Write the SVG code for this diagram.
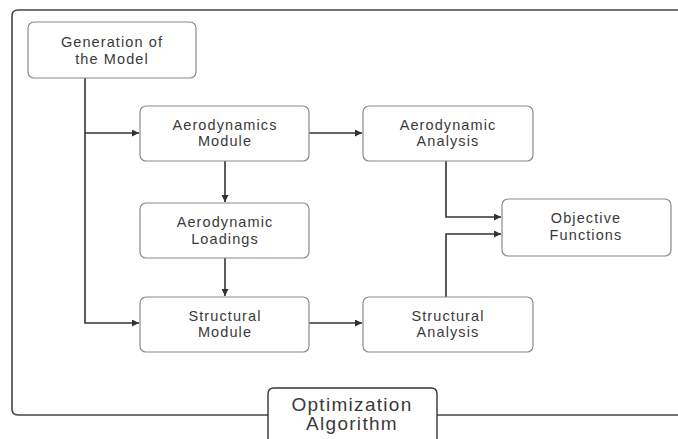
<svg xmlns="http://www.w3.org/2000/svg" width="678" height="439" viewBox="0 0 678 439">
<style>
.box{fill:#fff;stroke:#8a8a8a;stroke-width:1.2}
.t{font-family:"Liberation Sans",Arial,sans-serif;font-size:14.5px;letter-spacing:1.1px;fill:#3a3a3a;text-anchor:middle}
.big{font-family:"Liberation Sans",Arial,sans-serif;font-size:19px;letter-spacing:1.3px;fill:#3a3a3a;text-anchor:middle}
.c{fill:none;stroke:#333;stroke-width:1.6}
.frame{fill:none;stroke:#444;stroke-width:1.6}
</style>
<defs>
<marker id="ah" viewBox="0 0 10 10" refX="10" refY="5" markerWidth="7" markerHeight="7" markerUnits="userSpaceOnUse" orient="auto">
<path d="M0,0 L10,5 L0,10 z" fill="#333"/>
</marker>
</defs>
<rect width="678" height="439" fill="#fff"/>
<g id="frame">
<path class="frame" d="M678,10 L18,10 Q12,10 12,16 L12,409 Q12,415 18,415 L268,415"/>
<path class="frame" d="M437,415 L678,415"/>
</g>
<g id="connectors">
<path class="c" d="M85,78 L85,323 L139,323" marker-end="url(#ah)"/>
<path class="c" d="M85,133 L139,133" marker-end="url(#ah)"/>
<path class="c" d="M309,133 L362,133" marker-end="url(#ah)"/>
<path class="c" d="M225,161 L225,202" marker-end="url(#ah)"/>
<path class="c" d="M225,258 L225,296" marker-end="url(#ah)"/>
<path class="c" d="M309,323 L362,323" marker-end="url(#ah)"/>
<path class="c" d="M446,161 L446,217 L501,217" marker-end="url(#ah)"/>
<path class="c" d="M446,297 L446,234 L501,234" marker-end="url(#ah)"/>
</g>
<g id="gen">
<rect class="box" x="28" y="22" width="168" height="56" rx="6"/>
<text class="t" x="112" y="47">Generation of</text>
<text class="t" x="112" y="64">the Model</text>
</g>
<g id="aeromod">
<rect class="box" x="140" y="106" width="169" height="55" rx="6"/>
<text class="t" x="225" y="130">Aerodynamics</text>
<text class="t" x="225" y="146">Module</text>
</g>
<g id="loadings">
<rect class="box" x="140" y="203" width="169" height="55" rx="6"/>
<text class="t" x="225" y="227">Aerodynamic</text>
<text class="t" x="225" y="244">Loadings</text>
</g>
<g id="structmod">
<rect class="box" x="140" y="297" width="169" height="55" rx="6"/>
<text class="t" x="225" y="321">Structural</text>
<text class="t" x="225" y="337">Module</text>
</g>
<g id="aeroanal">
<rect class="box" x="363" y="106" width="170" height="55" rx="6"/>
<text class="t" x="448" y="130">Aerodynamic</text>
<text class="t" x="448" y="146">Analysis</text>
</g>
<g id="obj">
<rect class="box" x="502" y="199" width="169" height="57" rx="6"/>
<text class="t" x="586" y="223">Objective</text>
<text class="t" x="586" y="240">Functions</text>
</g>
<g id="structanal">
<rect class="box" x="363" y="297" width="170" height="55" rx="6"/>
<text class="t" x="448" y="321">Structural</text>
<text class="t" x="448" y="337">Analysis</text>
</g>
<g id="opt">
<path d="M268,445 L268,394 Q268,388 274,388 L431,388 Q437,388 437,394 L437,445" fill="#fff" stroke="#333" stroke-width="1.4"/>
<text class="big" x="352" y="411">Optimization</text>
<text class="big" x="352" y="430">Algorithm</text>
</g>
</svg>
